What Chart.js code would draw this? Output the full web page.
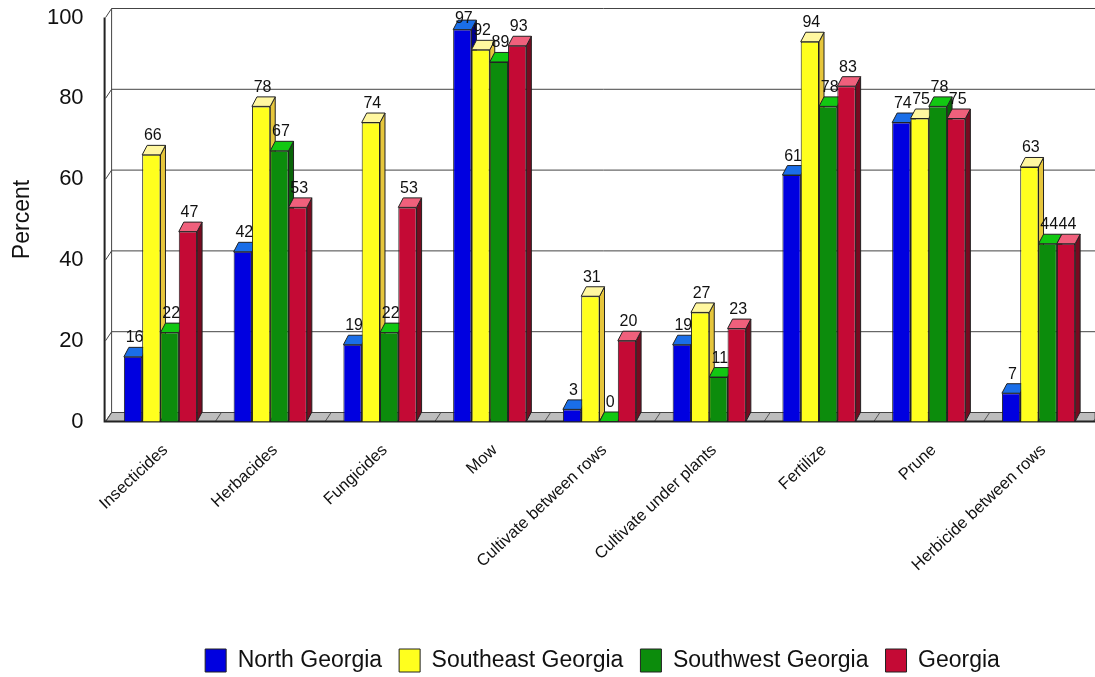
<!DOCTYPE html>
<html>
<head>
<meta charset="utf-8">
<title>Percent by region</title>
<script src="https://cdn.jsdelivr.net/npm/chart.js@4/dist/chart.umd.min.js"></script>
<style>
  html, body { margin: 0; padding: 0; background: #fff; overflow: hidden; }
  canvas { display: block; }
</style>
</head>
<body>
<canvas id="chart" width="1095" height="677"></canvas>
<script>
// =====================
// DATA
// =====================

const categories = [
  "Insecticides", "Herbacides", "Fungicides", "Mow",
  "Cultivate between rows", "Cultivate under plants",
  "Fertilize", "Prune", "Herbicide between rows"
];

const northGeorgia = [16, 42, 19, 97, 3, 19, 61, 74, 7];
const southeastGeorgia = [66, 78, 74, 92, 31, 27, 94, 75, 63];
const southwestGeorgia = [22, 67, 22, 89, 0, 11, 78, 78, 44];
const georgia = [47, 53, 53, 93, 20, 23, 83, 75, 44];

const yTicks = [0, 20, 40, 60, 80, 100];

// front, top and side face of each series
const palette = {
  north: ["#0000e0", "#1a6ee8", "#00008c"],
  southeast: ["#ffff1e", "#fff7a0", "#e6c63c"],
  southwest: ["#0c8c0c", "#12c812", "#086408"],
  georgia: ["#c40a35", "#f0607c", "#780a20"]
};

const FONT = "'Liberation Sans', Arial, sans-serif";
const BAR_DX = 5, BAR_DY = 9.5;
const WALL_DX = 6, WALL_DY = 9;
const LABEL_MIN_Y = 23;


// =====================
// 3D PARTS
// =====================

function face(ctx, pts, fill) {
  ctx.beginPath();
  pts.forEach((p, i) => i ? ctx.lineTo(p[0], p[1]) : ctx.moveTo(p[0], p[1]));
  ctx.closePath();
  ctx.fillStyle = fill;
  ctx.fill();
  ctx.stroke();
}

function drawWalls(chart) {
  const { ctx, chartArea, scales } = chart;
  const left = chartArea.left, base = scales.y.getPixelForValue(0);
  const right = chart.width;
  const step = scales.x.getPixelForValue(1) - scales.x.getPixelForValue(0);
  ctx.save();
  ctx.lineWidth = 1;

  // floor with a divider per category
  ctx.strokeStyle = "#555";
  face(ctx, [[left, base], [left + WALL_DX, base - WALL_DY], [right, base - WALL_DY], [right, base]], "#bdbdbd");
  categories.forEach((c, i) => {
    const x = scales.x.getPixelForValue(i) + step / 2;
    ctx.beginPath();
    ctx.moveTo(x, base);
    ctx.lineTo(x + WALL_DX, base - WALL_DY);
    ctx.stroke();
  });

  // gridlines on the back wall and their diagonal on the left wall
  ctx.strokeStyle = "#444";
  yTicks.forEach(v => {
    const y = scales.y.getPixelForValue(v);
    ctx.beginPath();
    ctx.moveTo(left, y);
    ctx.lineTo(left + WALL_DX, y - WALL_DY);
    ctx.lineTo(right, y - WALL_DY);
    ctx.stroke();
  });
  ctx.beginPath();
  ctx.moveTo(left + WALL_DX, scales.y.getPixelForValue(100) - WALL_DY);
  ctx.lineTo(left + WALL_DX, base - WALL_DY);
  ctx.stroke();

  // front axis lines
  ctx.strokeStyle = "#222";
  ctx.lineWidth = 2;
  ctx.beginPath();
  ctx.moveTo(left - 1, scales.y.getPixelForValue(100));
  ctx.lineTo(left - 1, base);
  ctx.lineTo(right, base);
  ctx.stroke();
  ctx.restore();
}

// top and side go in just before the series' own fronts
function drawBarFaces(chart, meta, ds) {
  const { ctx } = chart;
  ctx.save();
  ctx.lineWidth = 1;
  ctx.strokeStyle = "#222";
  meta.data.forEach(bar => {
    const { x, y, base, width } = bar.getProps(["x", "y", "base", "width"], true);
    const l = x - width / 2, r = x + width / 2;
    face(ctx, [[r, y], [r + BAR_DX, y - BAR_DY], [r + BAR_DX, base - BAR_DY], [r, base]], ds.sideColor);
    face(ctx, [[l, y], [l + BAR_DX, y - BAR_DY], [r + BAR_DX, y - BAR_DY], [r, y]], ds.topColor);
  });
  ctx.restore();
}

function drawValueLabels(chart) {
  const { ctx } = chart;
  ctx.save();
  ctx.font = "16px " + FONT;
  ctx.fillStyle = "#111";
  ctx.textAlign = "center";
  ctx.textBaseline = "alphabetic";
  chart.data.datasets.forEach((ds, i) => {
    chart.getDatasetMeta(i).data.forEach((bar, j) => {
      // tall bars keep their label inside the top of the plot
      const y = Math.max(bar.y - BAR_DY - 5, LABEL_MIN_Y);
      ctx.fillText(String(ds.data[j]), bar.x + 1.5, y);
    });
  });
  ctx.restore();
}

const boxPlugin = {
  id: "box3d",
  afterLayout(chart) {
    chart.legend.top += 5;
    chart.legend.bottom += 5;
    chart.legend.left += 3;
    chart.legend.right += 3;
  },
  // series paint left to right so each front covers the neighbour's side
  beforeDatasetsDraw(chart) {
    drawWalls(chart);
    chart.data.datasets.forEach((ds, i) => {
      const meta = chart.getDatasetMeta(i);
      drawBarFaces(chart, meta, ds);
      meta.controller.draw();
    });
    drawValueLabels(chart);
    return false;
  }
};


// =====================
// CHART
// =====================

function series(label, data, colors) {
  return {
    label, data,
    backgroundColor: colors[0],
    topColor: colors[1],
    sideColor: colors[2],
    borderColor: "#222",
    borderWidth: 1,
    barPercentage: 1,
    categoryPercentage: 0.667
  };
}

new Chart(document.getElementById("chart"), {
  type: "bar",
  plugins: [boxPlugin],
  data: {
    labels: categories,
    datasets: [
      series("North Georgia", northGeorgia, palette.north),
      series("Southeast Georgia", southeastGeorgia, palette.southeast),
      series("Southwest Georgia", southwestGeorgia, palette.southwest),
      series("Georgia", georgia, palette.georgia)
    ]
  },
  options: {
    responsive: false,
    animation: false,
    layout: { padding: { top: 17.5, right: 1.6, bottom: 0, left: 0 } },
    plugins: {
      tooltip: { enabled: false },
      legend: {
        position: "bottom",
        fullSize: false,
        onClick: null,
        labels: {
          boxWidth: 21,
          boxHeight: 23,
          padding: 17,
          color: "#111",
          font: { family: FONT, size: 23 }
        }
      }
    },
    scales: {
      x: {
        grid: { display: false, drawTicks: false },
        border: { display: false },
        ticks: {
          autoSkip: false,
          minRotation: 43,
          maxRotation: 43,
          padding: 19,
          labelOffset: 5,
          color: "#111",
          font: { family: FONT, size: 16.5 }
        },
        afterFit(scale) {
          scale.height = 205.5;
          scale.paddingTop = 0;
          scale.paddingBottom = 0;
        }
      },
      y: {
        min: 0,
        max: 100,
        afterBuildTicks(scale) { scale.ticks = yTicks.map(value => ({ value })); },
        grid: { display: false, drawTicks: false },
        border: { display: false },
        title: {
          display: true,
          text: "Percent",
          color: "#111",
          padding: { top: 9, bottom: 0 },
          font: { family: FONT, size: 23 }
        },
        ticks: {
          padding: 22,
          color: "#111",
          font: { family: FONT, size: 22 }
        },
        afterFit(scale) {
          scale.width = 105.6;
          scale.paddingTop = 0;
          scale.paddingBottom = 0;
        }
      }
    }
  }
});
</script>
</body>
</html>
